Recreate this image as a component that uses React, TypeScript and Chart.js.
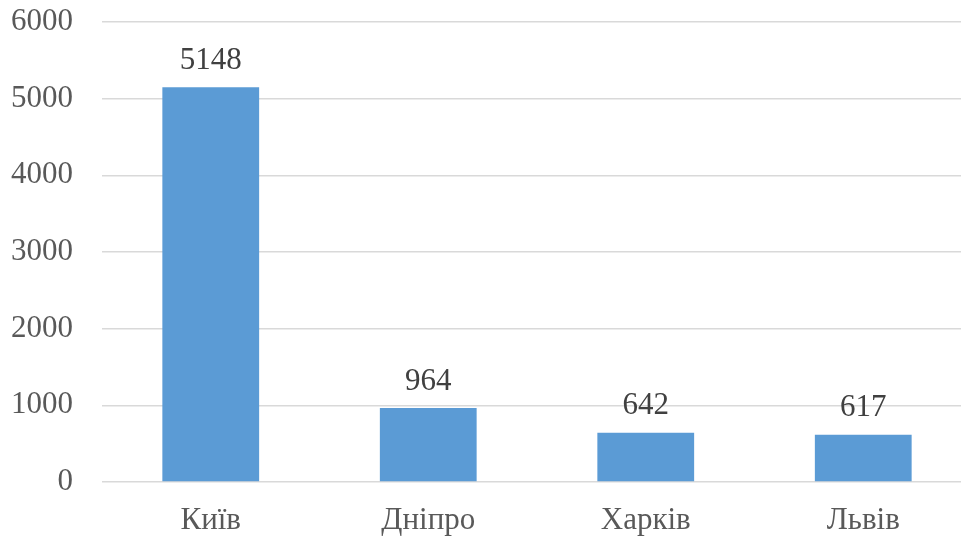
import React, { useEffect, useRef } from "react";
import { Chart, registerables } from "chart.js";

Chart.register(...registerables);

const cities: string[] = ["Київ", "Дніпро", "Харків", "Львів"];
const values: number[] = [5148, 964, 642, 617];
const yTicks: number[] = [0, 1000, 2000, 3000, 4000, 5000, 6000];

const FONT = "'Liberation Serif', 'Times New Roman', serif";
const TEXT = "#595959";

const valueLabels = {
  id: "valueLabels",
  afterDatasetsDraw(chart: any) {
    const ctx = chart.ctx;
    const meta = chart.getDatasetMeta(0);
    ctx.save();
    ctx.font = `31px ${FONT}`;
    ctx.fillStyle = "#404040";
    ctx.textAlign = "center";
    ctx.textBaseline = "alphabetic";
    meta.data.forEach((bar: any, i: number) => {
      ctx.fillText(String(values[i]), bar.x, bar.y - 18.5);
    });
    ctx.restore();
  },
};

export default function App() {
  const ref = useRef<HTMLCanvasElement | null>(null);
  useEffect(() => {
    document.body.style.margin = "0";
    const chart = new Chart(ref.current!, {
      type: "bar",
      data: {
        labels: cities,
        datasets: [
          {
            data: values,
            backgroundColor: "#5b9bd5",
            categoryPercentage: 1,
            barPercentage: 0.445,
          },
        ],
      },
      options: {
        responsive: false,
        animation: false,
        devicePixelRatio: 1,
        layout: { padding: { top: 22, right: 0, bottom: 0, left: 0 } },
        plugins: { legend: { display: false }, tooltip: { enabled: false } },
        scales: {
          x: {
            afterFit: (s: any) => {
              s.height = 55;
              s.paddingLeft = 0;
              s.paddingRight = 0;
            },
            grid: { display: false },
            border: { display: false },
            ticks: { font: { family: FONT, size: 31 }, color: TEXT, padding: 12 },
          },
          y: {
            min: 0,
            max: 6000,
            afterFit: (s: any) => {
              s.width = 102;
              s.paddingTop = 0;
              s.paddingBottom = 0;
            },
            afterBuildTicks: (s: any) => {
              s.ticks = yTicks.map((v) => ({ value: v }));
            },
            grid: { color: "#d9d9d9", lineWidth: 1.5, drawTicks: false },
            border: { display: false },
            ticks: {
              font: { family: FONT, size: 31 },
              color: TEXT,
              padding: 29,
              callback: (v: any) => String(v),
            },
          },
        },
      },
      plugins: [valueLabels],
    });
    return () => chart.destroy();
  }, []);
  return (
    <div style={{ position: "fixed", left: 0, top: 0, width: 961, height: 537, overflow: "hidden", background: "#fff" }}>
      <canvas ref={ref} width={972} height={537} style={{ width: 972, height: 537, display: "block" }} />
    </div>
  );
}
